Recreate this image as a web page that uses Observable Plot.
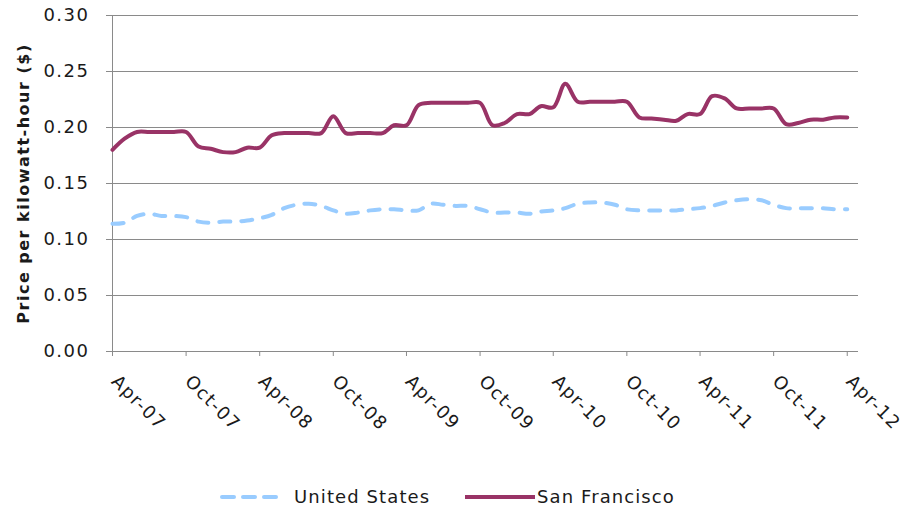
<!DOCTYPE html>
<html>
<head>
<meta charset="utf-8">
<script src="https://cdn.jsdelivr.net/npm/d3@7"></script>
<script src="https://cdn.jsdelivr.net/npm/@observablehq/plot@0.6"></script>
<style>
  body { margin: 0; background: #fff; font-family: "DejaVu Sans", sans-serif; }
  #wrap { position: relative; width: 907px; height: 516px; }
  .leg { position: absolute; font-size: 18px; letter-spacing: 1.1px; color: #1a1a1a; line-height: 20px; white-space: nowrap; }
</style>
</head>
<body>
<div id="wrap">
  <div id="chart"></div>
</div>
<script>
// ---- data (monthly, Apr-07 .. Apr-12) ----
const seriesNames = ["United States", "San Francisco"];
const tickLabels = ["Apr-07","Oct-07","Apr-08","Oct-08","Apr-09","Oct-09","Apr-10","Oct-10","Apr-11","Oct-11","Apr-12"];
const yTicks = [0, 0.05, 0.10, 0.15, 0.20, 0.25, 0.30];
const unitedStates = [
  0.114, 0.115, 0.121, 0.123, 0.121, 0.121, 0.120, 0.116, 0.115, 0.116, 0.116, 0.117,
  0.119, 0.122, 0.128, 0.131, 0.132, 0.130, 0.126, 0.123, 0.124, 0.126, 0.127, 0.127,
  0.126, 0.126, 0.132, 0.131, 0.130, 0.130, 0.127, 0.124, 0.124, 0.124, 0.123, 0.125,
  0.126, 0.128, 0.132, 0.133, 0.133, 0.131, 0.127, 0.126, 0.126, 0.126, 0.126, 0.127,
  0.128, 0.130, 0.133, 0.135, 0.136, 0.135, 0.131, 0.128, 0.128, 0.128, 0.128, 0.127,
  0.127
];
const sanFrancisco = [
  0.180, 0.190, 0.196, 0.196, 0.196, 0.196, 0.196, 0.183, 0.181, 0.178, 0.178, 0.182,
  0.182, 0.193, 0.195, 0.195, 0.195, 0.195, 0.210, 0.195, 0.195, 0.195, 0.195, 0.202,
  0.202, 0.220, 0.222, 0.222, 0.222, 0.222, 0.222, 0.202, 0.204, 0.212, 0.212, 0.219,
  0.218, 0.239, 0.223, 0.223, 0.223, 0.223, 0.223, 0.209, 0.208, 0.207, 0.206, 0.212,
  0.212, 0.228, 0.226, 0.217, 0.217, 0.217, 0.217, 0.203, 0.204, 0.207, 0.207, 0.209,
  0.209
];
const colors = ["#99CCFF", "#993366"];

// ---- build table ----
const parseLabel = d3.utcParse("%b-%y");
const months = d3.utcMonth.range(parseLabel("Apr-07"), d3.utcMonth.offset(parseLabel("Apr-12"), 1));
const usRows = months.map((d, i) => ({date: d, value: unitedStates[i]}));
const sfRows = months.map((d, i) => ({date: d, value: sanFrancisco[i]}));
const tickDates = tickLabels.map(parseLabel);
const xDomain = [parseLabel("Apr-07"), d3.utcDay.offset(parseLabel("Apr-12"), 28)];

const chart = Plot.plot({
  width: 907,
  height: 465,
  marginLeft: 112,
  marginRight: 49,
  marginTop: 15,
  marginBottom: 114,
  style: { fontFamily: "DejaVu Sans, sans-serif", fontSize: "18px", color: "#1a1a1a", background: "#fff", overflow: "visible", letterSpacing: "1.5px" },
  x: { type: "utc", domain: xDomain },
  y: { domain: [0, 0.30] },
  marks: [
    Plot.gridY(yTicks.slice(1), { stroke: "#8a8a8a", strokeOpacity: 1, strokeWidth: 1 }),
    Plot.ruleX([xDomain[0]], { stroke: "#8a8a8a", strokeWidth: 1 }),
    Plot.ruleY([0], { stroke: "#8a8a8a", strokeWidth: 1 }),
    Plot.axisY(yTicks, { tickFormat: d3.format(".2f"), tickSize: 6, tickPadding: 17, label: null, stroke: "#8a8a8a" }),
    Plot.axisX(tickDates, { text: null, tickSize: 5, label: null, stroke: "#8a8a8a" }),
    Plot.axisX(tickDates, { tickFormat: (d, i) => tickLabels[i], tickRotate: 45, tickSize: 0, tickPadding: 27, dx: 2, label: null, textAnchor: "start" }),
    Plot.text(["Price per kilowatt-hour ($)"], { frameAnchor: "left", rotate: -90, dx: -89, textAnchor: "middle", fontWeight: "bold", fontSize: 16, fill: "#1a1a1a" }),
    Plot.line(usRows, { x: "date", y: "value", stroke: colors[0], strokeWidth: 4, strokeDasharray: "11,11", strokeLinecap: "round", curve: "catmull-rom" }),
    Plot.line(sfRows, { x: "date", y: "value", stroke: colors[1], strokeWidth: 4, curve: "catmull-rom" })
  ]
});
const wrap = document.getElementById("wrap");
document.getElementById("chart").appendChild(chart);

// ---- legend below the chart ----
function swatch(left, width, color, dashed) {
  const ns = "http://www.w3.org/2000/svg";
  const s = document.createElementNS(ns, "svg");
  s.setAttribute("width", width + 4); s.setAttribute("height", 10);
  s.style.position = "absolute"; s.style.left = (left - 2) + "px"; s.style.top = "492px";
  const l = document.createElementNS(ns, "line");
  l.setAttribute("x1", 2); l.setAttribute("x2", width + 2); l.setAttribute("y1", 5); l.setAttribute("y2", 5);
  l.setAttribute("stroke", color); l.setAttribute("stroke-width", 4);
  if (dashed) { l.setAttribute("stroke-dasharray", "12,9"); l.setAttribute("stroke-linecap", "round"); }
  s.appendChild(l);
  wrap.appendChild(s);
}
function label(left, text) {
  const d = document.createElement("div");
  d.className = "leg"; d.style.left = left + "px"; d.style.top = "487px";
  d.textContent = text;
  wrap.appendChild(d);
}
swatch(222, 60, colors[0], true);
label(294, seriesNames[0]);
swatch(465, 70, colors[1], false);
label(537, seriesNames[1]);
</script>
</body>
</html>
